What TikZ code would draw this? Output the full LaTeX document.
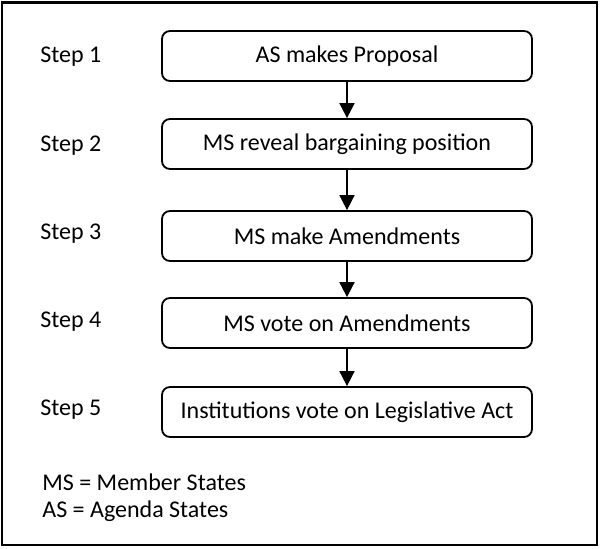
\documentclass[tikz,border=0pt]{standalone}
\usepackage{fontspec}
\setmainfont{Carlito}
\usetikzlibrary{arrows.meta}
\tikzset{
  stepbox/.style={draw, rounded corners=4pt, line width=0.9pt,
    minimum width=185pt, minimum height=25pt, inner sep=0pt},
  steplabel/.style={anchor=base west, inner sep=0pt},
  flow/.style={-{Triangle[width=7.5pt,length=7.5pt]}, line width=0.9pt},
}
\begin{document}
\begin{tikzpicture}[x=0.5pt,y=-0.5pt,font=\fontsize{12}{14}\selectfont]
    \useasboundingbox (0,0) rectangle (600,548);
    \draw[line width=1.4pt] (2,2.5) rectangle (597,545);
    % the steps
	\node[stepbox] (p1) at (347,56) {AS makes Proposal};
	\node[stepbox] (p2) at (347,144) {MS reveal bargaining position};
	\node[stepbox] (p3) at (347,236) {MS make Amendments};
	\node[stepbox] (p4) at (347,323) {MS vote on Amendments};
	\node[stepbox] (p5) at (347,412) {Institutions vote on Legislative Act};
	\node[steplabel] (s1) at (40,62) {Step 1};
	\node[steplabel] (s2) at (40,151) {Step 2};
	\node[steplabel] (s3) at (40,239) {Step 3};
	\node[steplabel] (s4) at (40,327) {Step 4};
	\node[steplabel] (s5) at (40,415) {Step 5};
	\draw[flow] (p1) -- (p2);
	\draw[flow] (p2) -- (p3);
	\draw[flow] (p3) -- (p4);
	\draw[flow] (p4) -- (p5);
    % legend
	\node[steplabel] (ms) at (42,490) {MS = Member States};
	\node[steplabel] (as) at (42,517) {AS = Agenda States};
\end{tikzpicture}
\end{document}
